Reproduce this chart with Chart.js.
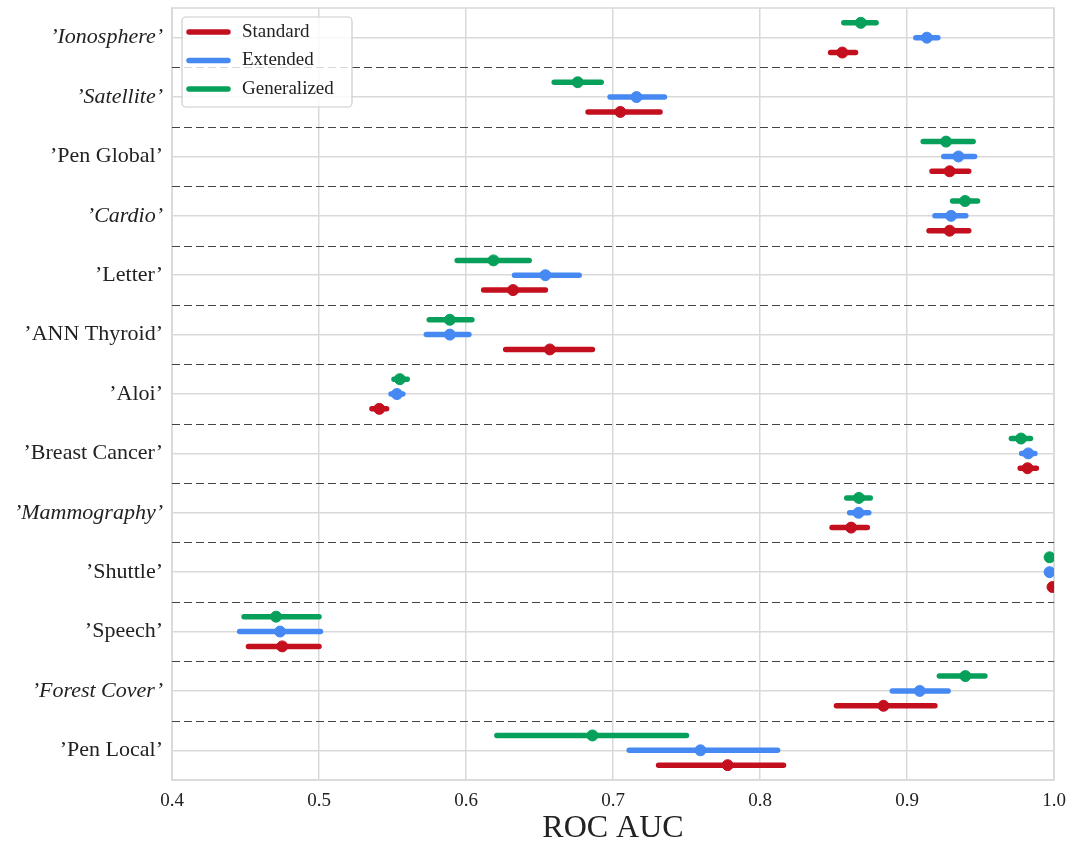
<!DOCTYPE html>
<html>
<head>
<meta charset="utf-8">
<script src="https://cdn.jsdelivr.net/npm/chart.js@4/dist/chart.umd.min.js"></script>
<style>
    html, body { margin: 0; padding: 0; background: #fff; }
    #wrap { width: 1074px; height: 849px; }
</style>
</head>
<body>
<div id="wrap"><canvas id="chart-canvas" width="1074" height="849"></canvas></div>
<script>
// datasets (top to bottom)
const NAMES = ["’Ionosphere’", "’Satellite’", "’Pen Global’", "’Cardio’", "’Letter’", "’ANN Thyroid’", "’Aloi’",
               "’Breast Cancer’", "’Mammography’", "’Shuttle’", "’Speech’", "’Forest Cover’", "’Pen Local’"];
const ITALIC = [true, true, false, true, false, false, false, false, true, false, false, true, false];

// Standard
const STD_MEAN = [0.856, 0.705, 0.929, 0.929, 0.632, 0.657, 0.541, 0.982, 0.862, 0.999, 0.475, 0.884, 0.778];
const STD_LOW  = [0.848, 0.683, 0.917, 0.915, 0.612, 0.627, 0.536, 0.977, 0.849, 0.999, 0.452, 0.852, 0.731];
const STD_HIGH = [0.865, 0.732, 0.942, 0.942, 0.654, 0.686, 0.546, 0.988, 0.873, 0.999, 0.500, 0.919, 0.816];

// Extended
const EXT_MEAN = [0.9135, 0.716, 0.935, 0.930, 0.654, 0.589, 0.553, 0.9825, 0.867, 0.997, 0.4735, 0.9087, 0.7595];
const EXT_LOW  = [0.906, 0.698, 0.925, 0.919, 0.633, 0.573, 0.549, 0.978, 0.861, 0.997, 0.446, 0.890, 0.711];
const EXT_HIGH = [0.921, 0.735, 0.946, 0.940, 0.677, 0.602, 0.557, 0.987, 0.874, 0.997, 0.501, 0.928, 0.812];

// Generalized
const GEN_MEAN = [0.8686, 0.676, 0.9266, 0.9395, 0.6187, 0.589, 0.555, 0.9776, 0.8673, 0.997, 0.4708, 0.9397, 0.686];
const GEN_LOW  = [0.857, 0.660, 0.911, 0.931, 0.594, 0.575, 0.551, 0.971, 0.859, 0.997, 0.449, 0.922, 0.621];
const GEN_HIGH = [0.879, 0.692, 0.945, 0.948, 0.643, 0.604, 0.560, 0.984, 0.875, 0.997, 0.500, 0.953, 0.750];

const X_TICKS = [0.4, 0.5, 0.6, 0.7, 0.8, 0.9, 1.0];

const SERIES = [
    {label: "Standard",    color: "#c40f1f", mean: STD_MEAN, low: STD_LOW, high: STD_HIGH, offset: 0.25},
    {label: "Extended",    color: "#4689f2", mean: EXT_MEAN, low: EXT_LOW, high: EXT_HIGH, offset: 0},
    {label: "Generalized", color: "#07a05a", mean: GEN_MEAN, low: GEN_LOW, high: GEN_HIGH, offset: -0.25}
];

const FONT = "'Liberation Serif', 'DejaVu Serif', serif";
const GRID = "#d9d9d9";

function intervals(s) {
    const out = [];
    NAMES.forEach(function (_, i) {
        const y = i + s.offset;
        out.push({x: s.low[i], y: y});
        out.push({x: s.high[i], y: y});
        out.push({x: s.high[i], y: null});
    });
    return out;
}

function means(s) {
    return NAMES.map(function (_, i) {
        return {x: s.mean[i], y: i + s.offset};
    });
}

const datasets = [];
SERIES.forEach(function (s) {
    datasets.push({
        type: "line",
        label: s.label,
        data: intervals(s),
        borderColor: s.color,
        borderWidth: 5.5,
        borderCapStyle: "round",
        pointRadius: 0,
        spanGaps: false,
        fill: false
    });
    datasets.push({
        type: "scatter",
        label: s.label + " mean",
        data: means(s),
        backgroundColor: s.color,
        borderColor: s.color,
        pointRadius: 5.5,
        pointHoverRadius: 5.5
    });
});

// dashed separators between datasets + frame
const separators = {
    id: "separators",
    beforeDatasetsDraw(chart) {
        const ctx = chart.ctx;
        const area = chart.chartArea;
        const yScale = chart.scales.y;
        ctx.save();
        ctx.strokeStyle = GRID;
        ctx.lineWidth = 1.5;
        ctx.strokeRect(area.left, area.top, area.right - area.left, area.bottom - area.top);
        ctx.strokeStyle = "#444";
        ctx.lineWidth = 1.2;
        ctx.setLineDash([8, 4]);
        for (let i = 0; i < NAMES.length - 1; i++) {
            const py = Math.round(yScale.getPixelForValue(i + 0.5)) + 0.5;
            ctx.beginPath();
            ctx.moveTo(area.left, py);
            ctx.lineTo(area.right, py);
            ctx.stroke();
        }
        ctx.restore();
    }
};

// legend box inside the plot, top-left
const innerLegend = {
    id: "innerLegend",
    afterDraw(chart) {
        const ctx = chart.ctx;
        const area = chart.chartArea;
        const x0 = area.left + 10, y0 = area.top + 9;
        const w = 170, h = 90;
        ctx.save();
        ctx.beginPath();
        ctx.roundRect(x0, y0, w, h, 4);
        ctx.fillStyle = "rgba(255,255,255,0.8)";
        ctx.fill();
        ctx.strokeStyle = "#cccccc";
        ctx.lineWidth = 1.2;
        ctx.stroke();
        ctx.font = "19px " + FONT;
        ctx.textBaseline = "middle";
        SERIES.forEach(function (s, i) {
            const ly = y0 + 15 + i * 28.5;
            ctx.beginPath();
            ctx.strokeStyle = s.color;
            ctx.lineWidth = 5.5;
            ctx.lineCap = "round";
            ctx.moveTo(x0 + 7, ly);
            ctx.lineTo(x0 + 46, ly);
            ctx.stroke();
            ctx.fillStyle = "#222";
            ctx.fillText(s.label, x0 + 60, ly);
        });
        ctx.restore();
    }
};

const context = document.getElementById("chart-canvas").getContext("2d");

const chart = new Chart(context, {
    data: {datasets: datasets},
    options: {
        responsive: false,
        animation: false,
        layout: {padding: {top: 8, right: 20, bottom: 0, left: 0}},
        plugins: {
            legend: {display: false},
            tooltip: {enabled: false}
        },
        scales: {
            x: {
                type: "linear",
                min: 0.4,
                max: 1.0,
                afterBuildTicks: function (scale) {
                    scale.ticks = X_TICKS.map(function (v) { return {value: v}; });
                },
                afterFit: function (scale) {
                    scale.height = 69;
                    scale.paddingLeft = 0;
                    scale.paddingRight = 0;
                },
                grid: {color: GRID, lineWidth: 1.5, drawTicks: false},
                border: {color: GRID, width: 1.5},
                ticks: {
                    color: "#222",
                    padding: 10,
                    font: {family: FONT, size: 19},
                    callback: function (v) { return v.toFixed(1); }
                },
                title: {
                    display: true,
                    text: "ROC AUC",
                    color: "#222",
                    font: {family: FONT, size: 32},
                    padding: {top: 0, bottom: 1}
                }
            },
            y: {
                type: "linear",
                min: -0.5,
                max: NAMES.length - 0.5,
                reverse: true,
                afterBuildTicks: function (scale) {
                    scale.ticks = NAMES.map(function (_, i) { return {value: i}; });
                },
                afterFit: function (scale) {
                    scale.width = 172;
                    scale.paddingTop = 0;
                    scale.paddingBottom = 0;
                },
                grid: {color: GRID, lineWidth: 1.5, drawTicks: false},
                border: {color: GRID, width: 1.5},
                ticks: {
                    autoSkip: false,
                    color: "#222",
                    padding: 9,
                    font: function (c) {
                        const i = c.index;
                        return {family: FONT, size: 22, style: ITALIC[i] ? "italic" : "normal"};
                    },
                    callback: function (v) { return NAMES[v]; }
                }
            }
        }
    },
    plugins: [separators, innerLegend]
});
</script>
</body>
</html>
